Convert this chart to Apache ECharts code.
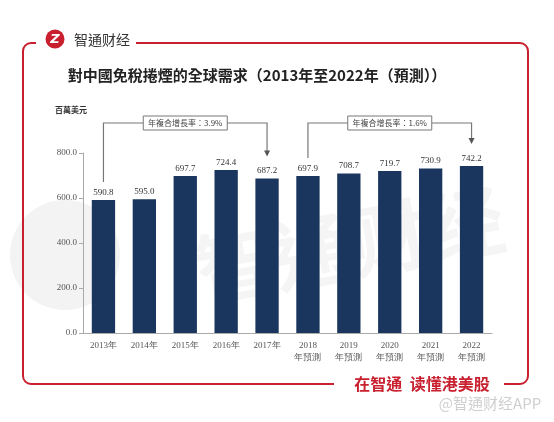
<!DOCTYPE html>
<html>
<head>
<meta charset="utf-8">
<script src="https://cdn.jsdelivr.net/npm/echarts@6/dist/echarts.min.js"></script>
<style>
html,body{margin:0;padding:0;background:#fff;}
#c{width:554px;height:422px;}
</style>
</head>
<body>
<div id="c"></div>
<script>
var categories = ['2013年','2014年','2015年','2016年','2017年','2018\n年預測','2019\n年預測','2020\n年預測','2021\n年預測','2022\n年預測'];
var values = [590.8, 595.0, 697.7, 724.4, 687.2, 697.9, 708.7, 719.7, 730.9, 742.2];
var yTicks = [0, 200, 400, 600, 800];
var cagrLabels = ['年複合增長率：3.9%', '年複合增長率：1.6%'];
var cagrSpans = [[0, 4], [5, 9]];

var RED = '#c9202f';
var chart = echarts.init(document.getElementById('c'));
var serif = '"Liberation Serif","DejaVu Serif",serif';
var cjk = '"Noto Sans CJK TC","Noto Sans CJK SC",sans-serif';

var option = {
  animation: false,
  backgroundColor: '#fff',
  grid: {left: 83, right: 62, top: 153, bottom: 89},
  xAxis: {
    type: 'category',
    data: categories,
    axisLine: {lineStyle: {color: '#aaa', width: 1}},
    axisTick: {alignWithLabel: true, length: 4, lineStyle: {color: '#aaa'}},
    axisLabel: {color: '#555', fontSize: 9, fontFamily: serif, lineHeight: 12, margin: 7}
  },
  yAxis: {
    type: 'value',
    min: yTicks[0],
    max: yTicks[yTicks.length - 1],
    interval: yTicks[1] - yTicks[0],
    splitLine: {show: false},
    axisLine: {show: true, lineStyle: {color: '#aaa', width: 1}},
    axisTick: {show: true, length: 4, lineStyle: {color: '#aaa'}},
    axisLabel: {color: '#555', fontSize: 9, fontFamily: serif, margin: 6,
      formatter: function (v) { return v.toFixed(1); }}
  },
  series: [{
    type: 'bar',
    data: values,
    barWidth: '57%',
    itemStyle: {color: '#1a365f'},
    label: {show: true, position: 'top', distance: 3, color: '#333', fontSize: 9, fontFamily: serif,
      formatter: function (p) { return p.value.toFixed(1); }}
  }]
};
chart.setOption(option);

function px(i, v) { return chart.convertToPixel({seriesIndex: 0}, [i, v]); }

var g = [];
// faint watermark
g.push({type: 'circle', shape: {cx: 65, cy: 255, r: 55}, style: {fill: '#f3f3f3'}, z: -10, silent: true});
g.push({type: 'text', x: 350, y: 245, rotation: 0.18, style: {text: '智通财经', fill: '#f5f5f5', font: 'bold 78px ' + cjk, align: 'center', verticalAlign: 'middle'}, z: -10, silent: true});

// frame
g.push({type: 'rect', shape: {x: 23, y: 43, width: 505, height: 341, r: 8}, style: {fill: 'none', stroke: RED, lineWidth: 2}, z: 5});
g.push({type: 'rect', shape: {x: 36, y: 36, width: 100, height: 14}, style: {fill: '#fff'}, z: 6});
g.push({type: 'rect', shape: {x: 334, y: 376, width: 170, height: 14}, style: {fill: '#fff'}, z: 6});
// logo
g.push({type: 'circle', shape: {cx: 55, cy: 39, r: 9.5}, style: {fill: RED}, z: 7});
g.push({type: 'text', x: 55, y: 40, style: {text: 'Z', fill: '#fff', font: 'italic bold 13px "DejaVu Sans",sans-serif', align: 'center', verticalAlign: 'middle'}, z: 8});
g.push({type: 'text', x: 74, y: 40, style: {text: '智通财经', fill: '#333', font: '14px ' + cjk, align: 'left', verticalAlign: 'middle'}, z: 7});
// bottom slogan
g.push({type: 'text', x: 422, y: 384, style: {text: '在智通  读懂港美股', fill: RED, font: 'bold 16px ' + cjk, align: 'center', verticalAlign: 'middle'}, z: 7});
g.push({type: 'text', x: 490, y: 403, style: {text: '@智通财经APP', fill: '#cfcfcf', font: '15px ' + cjk, align: 'center', verticalAlign: 'middle'}, z: 7});

// title and unit
g.push({type: 'text', x: 257, y: 75, style: {text: '對中國免稅捲煙的全球需求（2013年至2022年（預測））', fill: '#222', font: 'bold 15px ' + cjk, align: 'center', verticalAlign: 'middle'}, z: 7});
g.push({type: 'text', x: 55, y: 110, style: {text: '百萬美元', fill: '#333', font: 'bold 8px ' + cjk, align: 'left', verticalAlign: 'middle'}, z: 7});

// CAGR brackets
var topY = 123;
cagrSpans.forEach(function (s, k) {
  var a = px(s[0], values[s[0]]);
  var b = px(s[1], values[s[1]]);
  var leftBottom = a[1] - 18;
  var tipY = b[1] - 22;
  var cx = (a[0] + b[0]) / 2;
  g.push({type: 'polyline', shape: {points: [[a[0], leftBottom], [a[0], topY], [b[0], topY], [b[0], tipY - 5]]},
    style: {stroke: '#777', lineWidth: 1.2, fill: 'none'}, z: 7});
  g.push({type: 'polygon', shape: {points: [[b[0] - 3, tipY - 6], [b[0] + 3, tipY - 6], [b[0], tipY]]},
    style: {fill: '#555'}, z: 7});
  g.push({type: 'rect', shape: {x: cx - 42, y: topY - 7, width: 84, height: 14}, style: {fill: '#fff', stroke: '#777', lineWidth: 1}, z: 8});
  g.push({type: 'text', x: cx, y: topY, style: {text: cagrLabels[k], fill: '#444', font: '8px ' + cjk, align: 'center', verticalAlign: 'middle'}, z: 9});
});

chart.setOption({graphic: {elements: g}});
</script>
</body>
</html>
